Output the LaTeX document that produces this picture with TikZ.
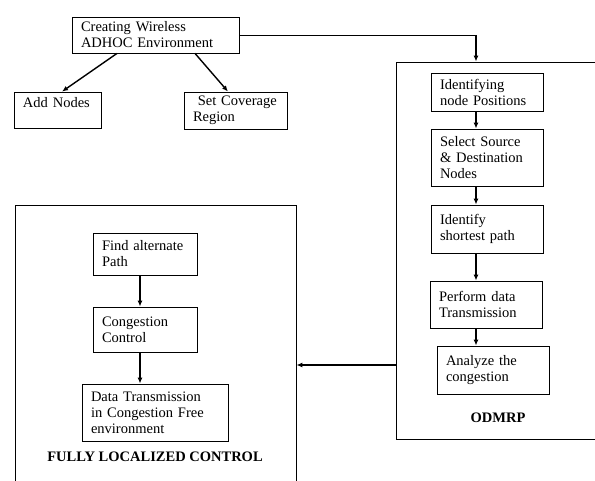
\documentclass[tikz,border=0pt]{standalone}
\usepackage{fontspec}
\setmainfont{Liberation Serif}
\usetikzlibrary{arrows.meta}
\tikzset{
  blk/.style={draw, rectangle, align=left, inner xsep=9pt, inner ysep=2pt, line width=0.8pt},
  frm/.style={draw, rectangle, line width=0.8pt},
  flow/.style={-{Latex[length=6pt,width=5pt]}, line width=1.4pt},
}
\begin{document}
\begin{tikzpicture}[x=1pt, y=-1pt, font=\fontsize{14.5}{16}\selectfont]
\useasboundingbox (0,0) rectangle (595,481);
\clip (0,0) rectangle (595,481);
% the two frames run past the page edge
\node at (508,250.5) [frm, minimum width=224pt, minimum height=377pt] (odmrp) {};
\node at (155.5,350) [frm, minimum width=281pt, minimum height=290pt] (flc) {};
% top row
\node at (155.5,35) [blk, text width=149pt, minimum height=36pt] (env) {Creating Wireless\\ADHOC Environment};
\node at (57.5,110) [blk, text width=69pt, minimum height=36pt] (add) {Add Nodes\\\mbox{}};
\node at (235.5,110.5) [blk, text width=85pt, minimum height=37pt] (cov) {\ Set Coverage\\Region};
% ODMRP column
\node at (487,92) [blk, text width=94pt, minimum height=38pt] (idpos) {Identifying\\node Positions};
\node at (487,157.5) [blk, text width=94pt, minimum height=57pt] (sel) {Select Source\\\& Destination\\Nodes};
\node at (487,229) [blk, text width=94pt, minimum height=48pt] (spath) {Identify\\shortest path};
\node at (486,304.5) [blk, text width=94pt, minimum height=47pt] (perf) {Perform data\\Transmission};
\node at (493,370) [blk, text width=94pt, minimum height=48pt] (anal) {Analyze the\\congestion};
\node at (498,418) (lodmrp) {\bfseries ODMRP};
% fully localized control
\node at (145,254) [blk, text width=86pt, minimum height=42pt] (alt) {Find alternate\\Path};
\node at (145,329.5) [blk, text width=86pt, minimum height=45pt] (cong) {Congestion\\Control};
\node at (155,412.5) [blk, text width=128pt, minimum height=57pt] (dtx) {Data Transmission\\in Congestion Free\\environment};
\node at (155,457) (lflc) {\bfseries FULLY LOCALIZED CONTROL};
% connectors
\coordinate (drop) at (476,35);
\coordinate (lane) at (140,0);
\coordinate (back) at (0,365);
\draw[flow] ([xshift=-38.5pt]env.south) -- ([xshift=4.5pt]add.north);
\draw[flow] ([xshift=39.5pt]env.south) -- ([xshift=-7.5pt]cov.north);
\draw[line width=0.8pt] (env.east) -- (drop);
\draw[flow] (drop) -- (drop |- odmrp.north);
\draw[flow] (idpos.south -| drop) -- (sel.north -| drop);
\draw[flow] (sel.south -| drop) -- (spath.north -| drop);
\draw[flow] (spath.south -| drop) -- (perf.north -| drop);
\draw[flow] (perf.south -| drop) -- (anal.north -| drop);
\draw[flow] (odmrp.west |- back) -- (flc.east |- back);
\draw[flow] (alt.south -| lane) -- (cong.north -| lane);
\draw[flow] (cong.south -| lane) -- (dtx.north -| lane);
\end{tikzpicture}
\end{document}
